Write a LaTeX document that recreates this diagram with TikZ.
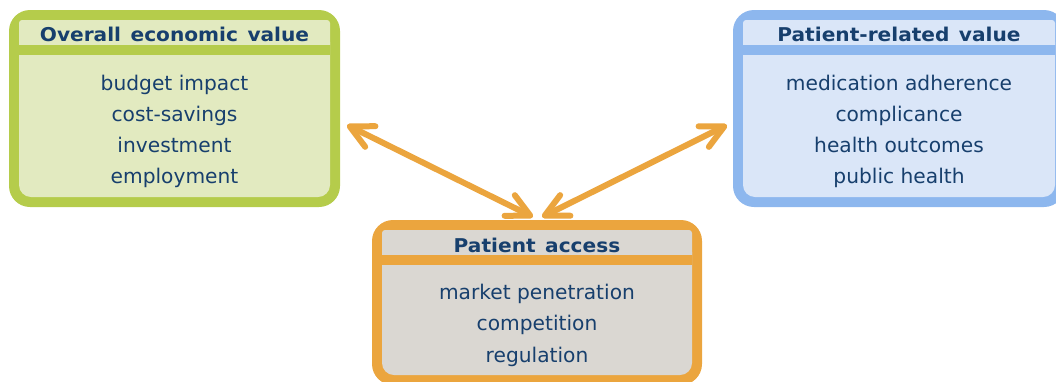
\documentclass[tikz,border=0pt]{standalone}
\usepackage{fontspec}
\setmainfont{DejaVu Sans}
\newfontfamily\hdrfont{DejaVu Sans}[FakeStretch=1.06,WordSpace=1.35]
\usetikzlibrary{arrows.meta,calc}
\definecolor{gbord}{HTML}{B5CC4B}
\definecolor{gfill}{HTML}{E2EAC0}
\definecolor{bbord}{HTML}{8DB7EE}
\definecolor{bfill}{HTML}{DAE6F8}
\definecolor{obord}{HTML}{EBA53E}
\definecolor{ofill}{HTML}{DAD7D2}
\definecolor{navy}{HTML}{173F6D}
\newcommand\drawpanel[3]{%
  % #1 node name, #2 border colour, #3 fill colour
  \fill[#3, rounded corners=12pt] ($(#1.north west)+(10,20)$) rectangle ($(#1.south east)+(-10,-10)$);
  \fill[#3, rounded corners=3pt] ($(#1.north west)+(10,10)$) rectangle ($(#1.north east)+(-10,38)$);
  \fill[#2] ($(#1.north west)+(10,35)$) rectangle ($(#1.north east)+(-10,45)$);
}
\begin{document}
\begin{tikzpicture}[x=1pt,y=-1pt,
  frame/.style={inner sep=0pt, outer sep=0pt, rounded corners=21pt},
  hdr/.style={font=\hdrfont\fontsize{19}{23}\selectfont\bfseries, text=navy, anchor=base, inner sep=0pt},
  body/.style={font=\fontsize{20.2}{31}\selectfont, text=navy, align=center, inner sep=0pt},
  >={Straight Barb[length=23pt,width=23pt,round]},
  link/.style={draw=obord, line width=6pt, line cap=round, <->}]
\path[use as bounding box] (0,0) rectangle (1056,381);
% left panel
\node[frame, fill=gbord, minimum width=331pt, minimum height=197pt] (L) at (174.5,108.5) {};
\drawpanel{L}{gbord}{gfill}
\node[hdr] (Lh) at (174.5,41.7) {Overall economic value};
\node[body] (Lb) at (174.5,131) {budget impact\\cost-savings\\investment\\employment};
% right panel
\node[frame, fill=bbord, minimum width=332pt, minimum height=197pt] (R) at (899,108.5) {};
\drawpanel{R}{bbord}{bfill}
\node[hdr] (Rh) at (899,41.7) {Patient-related value};
\node[body] (Rb) at (899,131) {medication adherence\\complicance\\health outcomes\\public health};
% bottom panel
\node[frame, fill=obord, minimum width=330pt, minimum height=165pt] (B) at (537,302.5) {};
\drawpanel{B}{obord}{ofill}
\node[hdr] (Bh) at (537,252.7) {Patient access};
\node[body, font=\fontsize{20.2}{31.5}\selectfont] (Bb) at (537,325) {market penetration\\competition\\regulation};
% connectors
\draw[link] ([shift={(7,16.5)}]L.east) -- ([shift={(-4,-3)}]B.north);
\draw[link] ([shift={(-6,16.5)}]R.west) -- ([shift={(5,-3)}]B.north);
\end{tikzpicture}
\end{document}
